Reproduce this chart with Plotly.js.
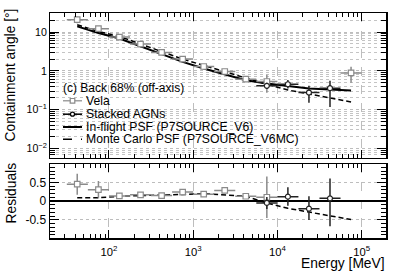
<!DOCTYPE html>
<html><head><meta charset="utf-8">
<script src="https://cdn.plot.ly/plotly-3.0.1.min.js"></script>
<style>html,body{margin:0;padding:0;background:#fff}</style>
</head><body><div id="chart" style="width:399px;height:273px"></div>
<script>
// ---- Vela (gray open squares) ----
const velaE      = [42, 75, 133, 237, 422, 750, 1334, 2371, 4217, 7499, 74989];
const velaLo     = [31.6, 56.2, 100, 178, 316, 562, 1000, 1778, 3162, 5623, 56234];
const velaHi     = [56.2, 100, 178, 316, 562, 1000, 1778, 3162, 5623, 10000, 100000];
const velaAngle  = [20.8, 12.2, 7.4, 4.9, 2.97, 2.0, 1.29, 0.96, 0.61, 0.53, 0.88];
const velaAngErr = [4.0, 2.1, 0.45, 0.15, 0.09, 0.06, 0.04, 0.03, 0.02, 0.26, 0.39];
const velaResid  = [0.45, 0.305, 0.14, 0.167, 0.147, 0.24, 0.186, 0.286, 0.13, 0.103, null];
const velaResErr = [0.28, 0.23, 0.07, 0.04, 0.03, 0.03, 0.03, 0.03, 0.03, 0.55, null];

// ---- Stacked AGNs (black circles) ----
const agnE        = [7499, 13335, 23714, 42170];
const agnLo       = [5623, 10000, 17783, 31623];
const agnHi       = [10000, 17783, 31623, 56234];
const agnAngle    = [0.41, 0.45, 0.275, 0.357];
const agnAngErrUp = [0.08, 0.13, 0.135, 0.2];
const agnAngErrDn = [0.07, 0.1, 0.125, 0.24];
const agnResid    = [-0.047, 0.12, -0.2, 0.075];
const agnResErrUp = [0.16, 0.25, 0.33, 0.53];
const agnResErrDn = [0.16, 0.24, 0.3, 0.74];

// ---- PSF curves ----
const psfE       = [42, 75, 133, 237, 422, 750, 1334, 2371, 4217, 7499, 13335, 23714, 42170, 74989];
const inflight   = [14.0, 9.4, 6.8, 4.3, 2.65, 1.7, 1.15, 0.8, 0.57, 0.47, 0.4, 0.35, 0.33, 0.31];
const montecarlo = [15.3, 10.3, 7.7, 4.95, 3.05, 2.0, 1.38, 0.94, 0.64, 0.45, 0.32, 0.25, 0.2, 0.157];
const mcResid    = [0.09, 0.09, 0.13, 0.14, 0.15, 0.18, 0.2, 0.17, 0.13, -0.05, -0.19, -0.29, -0.4, -0.49];

// ---- text ----
const legendTitle = '(c) Back 68% (off-axis)';
const legendNames = ['Vela', 'Stacked AGNs', 'In-flight PSF (P7SOURCE_V6)', 'Monte Carlo PSF (P7SOURCE_V6MC)'];
const yTitleTop = 'Containment angle [°]';
const yTitleBot = 'Residuals';
const xTitle = 'Energy [MeV]';
const resTickVals = [-0.5, 0, 0.5];
const resTickText = ['-0.5', '0', '0.5'];

const GRAY = '#8a8a8a';
const FONT = 'Liberation Sans, Arial, sans-serif';

const xPlus  = (E, hi) => E.map((e, i) => hi[i] - e);
const xMinus = (E, lo) => E.map((e, i) => e - lo[i]);

const traces = [
  // top panel
  {x: psfE, y: inflight, xaxis: 'x2', yaxis: 'y2', mode: 'lines',
   line: {color: '#000', width: 2}},
  {x: psfE, y: montecarlo, xaxis: 'x2', yaxis: 'y2', mode: 'lines',
   line: {color: '#000', width: 1.5, dash: '5px,3px'}},
  {x: velaE, y: velaAngle, xaxis: 'x2', yaxis: 'y2', mode: 'markers',
   marker: {symbol: 'square', size: 5.5, color: '#fff', line: {color: GRAY, width: 1.2}},
   error_x: {type: 'data', symmetric: false, array: xPlus(velaE, velaHi), arrayminus: xMinus(velaE, velaLo), color: GRAY, thickness: 1.5, width: 0},
   error_y: {type: 'data', array: velaAngErr, color: GRAY, thickness: 1.5, width: 0}},
  {x: agnE, y: agnAngle, xaxis: 'x2', yaxis: 'y2', mode: 'markers',
   marker: {symbol: 'circle', size: 5, color: '#fff', line: {color: '#222', width: 1.2}},
   error_x: {type: 'data', symmetric: false, array: xPlus(agnE, agnHi), arrayminus: xMinus(agnE, agnLo), color: '#222', thickness: 1.5, width: 0},
   error_y: {type: 'data', symmetric: false, array: agnAngErrUp, arrayminus: agnAngErrDn, color: '#222', thickness: 1.5, width: 0}},
  // bottom panel
  {x: psfE, y: mcResid, xaxis: 'x', yaxis: 'y', mode: 'lines',
   line: {color: '#000', width: 1.5, dash: '5px,3px'}},
  {x: velaE, y: velaResid, xaxis: 'x', yaxis: 'y', mode: 'markers',
   marker: {symbol: 'square', size: 5.5, color: '#fff', line: {color: GRAY, width: 1.2}},
   error_x: {type: 'data', symmetric: false, array: xPlus(velaE, velaHi), arrayminus: xMinus(velaE, velaLo), color: GRAY, thickness: 1.5, width: 0},
   error_y: {type: 'data', array: velaResErr, color: GRAY, thickness: 1.5, width: 0}},
  {x: agnE, y: agnResid, xaxis: 'x', yaxis: 'y', mode: 'markers',
   marker: {symbol: 'circle', size: 5, color: '#fff', line: {color: '#222', width: 1.2}},
   error_x: {type: 'data', symmetric: false, array: xPlus(agnE, agnHi), arrayminus: xMinus(agnE, agnLo), color: '#222', thickness: 1.5, width: 0},
   error_y: {type: 'data', symmetric: false, array: agnResErrUp, arrayminus: agnResErrDn, color: '#222', thickness: 1.5, width: 0}}
];

// pixel -> paper helpers (plot area: x 50..386, y 13..238)
const W = 399, H = 273, ML = 50, MR = 13, MT = 13, MB = 35;
const px = p => (p - ML) / (W - ML - MR);
const py = p => (H - MB - p) / (H - MT - MB);

const xCommon = {
  type: 'log', range: [1.3, 5.29], dtick: 1, exponentformat: 'power',
  ticks: 'inside', ticklen: 8, tickcolor: '#000', tickwidth: 1,
  showline: true, linecolor: '#000', linewidth: 1.5, mirror: 'allticks',
  showgrid: true, gridcolor: '#bdbdbd', griddash: 'dash', gridwidth: 1,
  minor: {ticks: 'inside', ticklen: 4, dtick: 'D1', tickcolor: '#000', showgrid: false},
  zeroline: false
};

const legendRows = [100.8, 114.2, 127, 139.2];
const shapes = [];
const annotations = [];
// legend header
annotations.push({xref: 'paper', yref: 'paper', x: px(62), y: py(88), xanchor: 'left', yanchor: 'middle',
  borderpad: 0,
  text: legendTitle, showarrow: false, font: {family: FONT, size: 12, color: '#000'}});
legendNames.forEach((n, i) => {
  annotations.push({xref: 'paper', yref: 'paper', x: px(85), y: py(legendRows[i]), xanchor: 'left', yanchor: 'middle',
    borderpad: 0,
    text: n, showarrow: false, font: {family: FONT, size: 12.2, color: '#000'}});
});
const lineStyles = [
  {color: GRAY, width: 1.2}, {color: '#000', width: 1.5},
  {color: '#000', width: 2}, {color: '#000', width: 1.5, dash: 'dash'}
];
lineStyles.forEach((ls, i) => {
  shapes.push({type: 'line', xref: 'paper', yref: 'paper', x0: px(63), x1: px(82),
    y0: py(legendRows[i]), y1: py(legendRows[i]), line: ls});
});
shapes.push({type: 'rect', xref: 'paper', yref: 'paper', x0: px(70.2), x1: px(74.8),
  y0: py(legendRows[0] + 2.3), y1: py(legendRows[0] - 2.3), fillcolor: '#fff', line: {color: GRAY, width: 1.2}});
shapes.push({type: 'circle', xref: 'paper', yref: 'paper', x0: px(70.5), x1: px(74.5),
  y0: py(legendRows[1] + 2), y1: py(legendRows[1] - 2), fillcolor: '#fff', line: {color: '#000', width: 1.2}});

// axis titles
annotations.push({xref: 'paper', yref: 'paper', x: px(9.5), y: py(75), xanchor: 'center', yanchor: 'middle',
  textangle: -90, text: yTitleTop, showarrow: false, font: {family: FONT, size: 13.8, color: '#000'}});
annotations.push({xref: 'paper', yref: 'paper', x: px(11), y: py(193.5), xanchor: 'center', yanchor: 'middle',
  textangle: -90, text: yTitleBot, showarrow: false, font: {family: FONT, size: 13.8, color: '#000'}});
annotations.push({xref: 'paper', yref: 'paper', x: px(387), y: py(263), xanchor: 'right', yanchor: 'middle',
  text: xTitle, showarrow: false, font: {family: FONT, size: 13.8, color: '#000'}});

const layout = {
  width: W, height: H,
  margin: {l: ML, r: MR, t: MT, b: MB, pad: 0},
  paper_bgcolor: '#fff', plot_bgcolor: '#fff',
  showlegend: false,
  font: {family: FONT, color: '#000'},
  xaxis: Object.assign({}, xCommon, {anchor: 'y', domain: [0, 1], showticklabels: true,
    tickfont: {family: FONT, size: 9, color: '#000'}, ticklabelstandoff: 3}),
  xaxis2: Object.assign({}, xCommon, {anchor: 'y2', domain: [0, 1], showticklabels: false}),
  yaxis: {
    anchor: 'x', domain: [0, 0.3276], range: [-0.98, 0.98],
    tickmode: 'array', tickvals: resTickVals, ticktext: resTickText,
    ticks: 'inside', ticklen: 9, tickcolor: '#000', tickwidth: 1,
    minor: {tickmode: 'linear', tick0: 0, dtick: 0.1, ticks: 'inside', ticklen: 5, tickcolor: '#000', showgrid: false},
    showline: true, linecolor: '#000', linewidth: 1.5, mirror: 'allticks',
    showgrid: true, gridcolor: '#bdbdbd', griddash: 'dot', gridwidth: 1,
    zeroline: true, zerolinecolor: '#000', zerolinewidth: 1.5,
    tickfont: {family: FONT, size: 12, color: '#000'}
  },
  yaxis2: {
    anchor: 'x2', domain: [0.3569, 1], type: 'log', range: [-2.24, 1.49],
    dtick: 1, exponentformat: 'power',
    ticks: 'inside', ticklen: 9, tickcolor: '#000', tickwidth: 1,
    minor: {ticks: 'inside', ticklen: 5, dtick: 'D1', tickcolor: '#000', showgrid: true, gridcolor: '#c4c4c4', griddash: 'dot', gridwidth: 1},
    showline: true, linecolor: '#000', linewidth: 1.5, mirror: 'allticks',
    showgrid: true, gridcolor: '#bdbdbd', griddash: 'dot', gridwidth: 1,
    zeroline: false,
    tickfont: {family: FONT, size: 8.5, color: '#000'}
  },
  shapes: shapes,
  annotations: annotations
};

Plotly.newPlot('chart', traces, layout, {staticPlot: true, displayModeBar: false});
</script>
</body></html>
